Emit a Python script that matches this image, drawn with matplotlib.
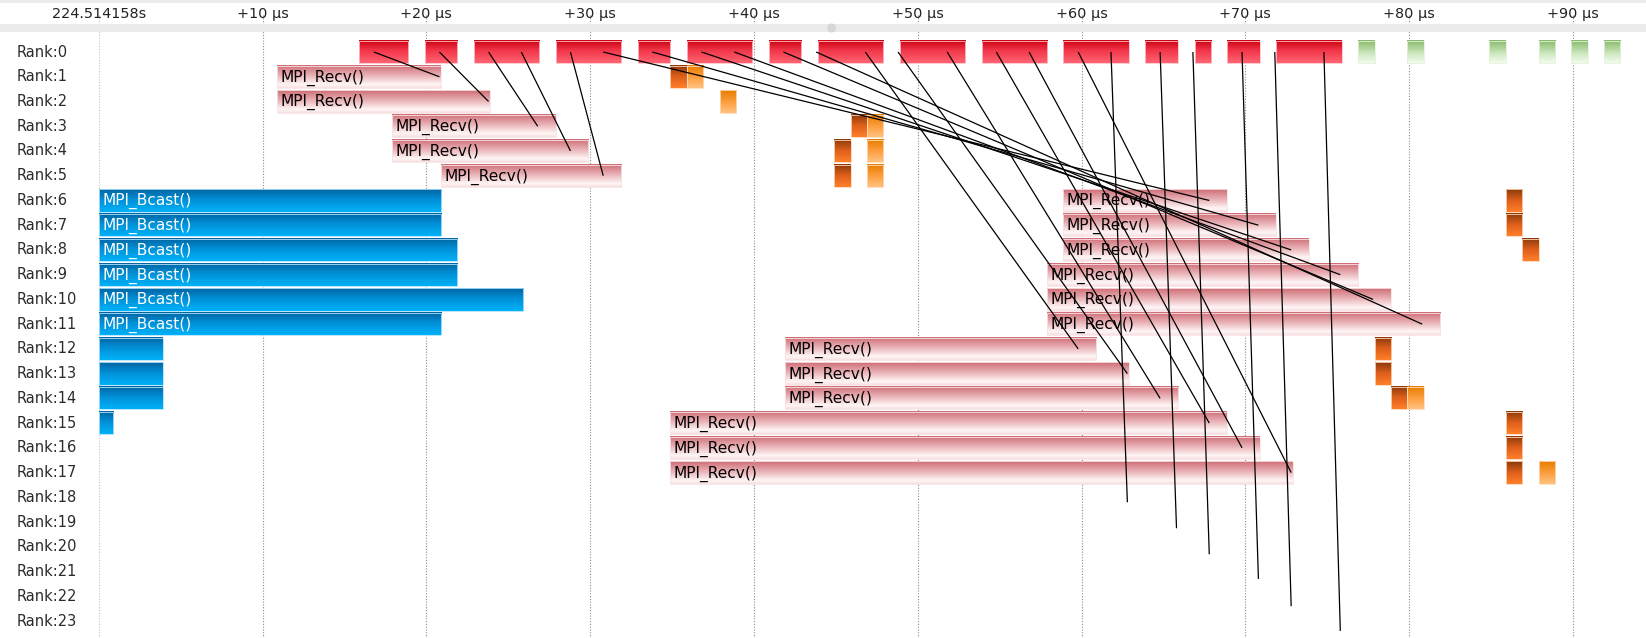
import numpy as np
import matplotlib
matplotlib.use("Agg")
import matplotlib.pyplot as plt
from matplotlib.colors import LinearSegmentedColormap
from matplotlib.patches import Rectangle, Circle

# ---- data (times in microseconds after 224.514158s) ----
n_ranks = 24
rank_labels = ["Rank:%d" % r for r in range(n_ranks)]

# rank 0 compute / send bars (red)
send_start = [15.9, 19.9, 22.9, 27.9, 32.9, 35.9, 40.9, 43.9, 48.9, 53.9, 58.9, 63.9, 66.9, 68.9, 71.9]
send_end = [18.9, 21.9, 26.9, 31.9, 34.9, 39.9, 42.9, 47.9, 52.9, 57.9, 62.9, 65.9, 67.9, 70.9, 75.9]

# rank 0 small green events
green_start = [76.9, 79.9, 84.9, 87.9, 89.9, 91.9]
green_len = 1.0

# MPI_Recv bars
recv_rank = [1, 2, 3, 4, 5, 6, 7, 8, 9, 10, 11, 12, 13, 14, 15, 16, 17]
recv_start = [10.9, 10.9, 17.9, 17.9, 20.9, 58.9, 58.9, 58.9, 57.9, 57.9, 57.9, 41.9, 41.9, 41.9, 34.9, 34.9, 34.9]
recv_end = [20.9, 23.9, 27.9, 29.9, 31.9, 68.9, 71.9, 73.9, 76.9, 78.9, 81.9, 60.9, 62.9, 65.9, 68.9, 70.9, 72.9]

# MPI_Bcast bars
bcast_rank = [6, 7, 8, 9, 10, 11, 12, 13, 14, 15]
bcast_start = [0, 0, 0, 0, 0, 0, 0, 0, 0, 0]
bcast_end = [20.9, 20.9, 21.9, 21.9, 25.9, 20.9, 3.9, 3.9, 3.9, 0.9]

# small orange events (1 us each)
dark_rank = [1, 3, 4, 5, 6, 7, 8, 12, 13, 14, 15, 16, 17]
dark_start = [34.9, 45.9, 44.9, 44.9, 85.9, 85.9, 86.9, 77.9, 77.9, 78.9, 85.9, 85.9, 85.9]
light_rank = [1, 2, 3, 4, 5, 14, 17]
light_start = [35.9, 37.9, 46.9, 46.9, 46.9, 79.9, 87.9]
small_len = 1.0

# messages from rank 0
msg_send = [16.8, 20.8, 23.8, 25.8, 28.8, 30.8, 33.8, 36.8, 38.8, 41.8, 43.8, 46.8,
            48.8, 51.8, 54.8, 56.8, 59.8, 61.8, 64.8, 66.8, 69.8, 71.8, 74.8]
msg_recv = [20.8, 23.8, 26.8, 28.8, 30.8, 67.8, 70.8, 72.8, 75.8, 77.8, 80.8, 59.8,
            62.8, 64.8, 67.8, 69.8, 72.8, 62.8, 65.8, 67.8, 70.8, 72.8, 75.8]
msg_dst = [1, 2, 3, 4, 5, 6, 7, 8, 9, 10, 11, 12, 13, 14, 15, 16, 17,
           18.2, 19.25, 20.3, 21.3, 22.4, 23.4]

tick_pos = [0, 10, 20, 30, 40, 50, 60, 70, 80, 90]
tick_text = ["224.514158s"] + ["+%d µs" % t for t in tick_pos[1:]]

# ---- layout (pixels) ----
W, H = 1646, 638
X0_PX, US_PX = 98.7, 16.38      # x pixel of t=0, pixels per us
Y0_PX, ROW_PX = 52.0, 24.74     # y pixel of rank 0 centre, pixels per row
BAR_H = 0.9


def py(p):
    return (p - Y0_PX) / ROW_PX


fig = plt.figure(figsize=(W / 100, H / 100), dpi=100)
ax = fig.add_axes([0, 0, 1, 1])
ax.set_axis_off()

cmaps = {
    "red": LinearSegmentedColormap.from_list("red", [(0, "#c9000e"), (0.45, "#f2364a"), (1, "#ff6472")]),
    "recv": LinearSegmentedColormap.from_list("recv", [(0, "#cf6d75"), (0.45, "#e9b2b7"), (0.85, "#fff6f6"), (1, "#f7dfe1")]),
    "bcast": LinearSegmentedColormap.from_list("bcast", [(0, "#0066a2"), (0.5, "#0092da"), (1, "#00b1f7")]),
    "dark": LinearSegmentedColormap.from_list("dark", [(0, "#8b3a0c"), (0.5, "#de601a"), (1, "#ff7f2a")]),
    "light": LinearSegmentedColormap.from_list("light", [(0, "#e57d00"), (0.5, "#fd9d3c"), (1, "#ffc27f")]),
    "green": LinearSegmentedColormap.from_list("green", [(0, "#86b86a"), (0.6, "#cfe9c0"), (1, "#f3fbee")]),
}
edges = {"red": "#ffc0c8", "recv": "#f8e4e6", "bcast": "#b0e2fd",
         "dark": "#ffd6b5", "light": "#ffdcb8", "green": "#e3f2da"}
grad = np.linspace(0, 1, 64).reshape(-1, 1)


def bar(rank, t0, t1, kind, label=None, label_color="black"):
    ax.imshow(grad, cmap=cmaps[kind], extent=(t0, t1, rank + BAR_H / 2, rank - BAR_H / 2),
              origin="upper", aspect="auto", interpolation="bilinear", zorder=2)
    ax.add_patch(Rectangle((t0, rank - BAR_H / 2), t1 - t0, BAR_H, fill=False,
                           edgecolor=edges[kind], lw=0.6, zorder=2.1))
    if label:
        ax.annotate(label, (t0, rank), xytext=(2.5, -0.6), textcoords="offset points",
                    va="center", ha="left", fontsize=11.1, color=label_color,
                    family="DejaVu Sans", zorder=3)


# header decorations
ax.axhspan(py(0), py(2.7), color="#ebebeb", lw=0, zorder=1)
ax.axhspan(py(24), py(31.7), color="#ebebeb", lw=0, zorder=1.5)
for t, s in zip(tick_pos, tick_text):
    ax.text(t, py(14.3), s, ha="center", va="center", fontsize=10.4, color="#222222", zorder=3)

# grid lines
for t in tick_pos:
    ax.vlines(t, py(15), py(H), colors="#c4c4c4" if t == 0 else "#8c8c8c",
              linestyles=(0, (1, 1.5)), lw=0.8, zorder=1)

# rank labels
for r, s in enumerate(rank_labels):
    ax.text(16.7 / W, r, s, transform=ax.get_yaxis_transform(), ha="left", va="center",
            fontsize=10.5, color="#2b2b2b", zorder=3)

for t0, t1 in zip(send_start, send_end):
    bar(0, t0, t1, "red")
for t0 in green_start:
    bar(0, t0, t0 + green_len, "green")
for r, t0, t1 in zip(recv_rank, recv_start, recv_end):
    bar(r, t0, t1, "recv", "MPI_Recv()")
for r, t0, t1 in zip(bcast_rank, bcast_start, bcast_end):
    bar(r, t0, t1, "bcast", "MPI_Bcast()" if t1 - t0 > 6 else None, "white")
for r, t0 in zip(dark_rank, dark_start):
    bar(r, t0, t0 + small_len, "dark")
for r, t0 in zip(light_rank, light_start):
    bar(r, t0, t0 + small_len, "light")

# message lines
for t0, t1, d in zip(msg_send, msg_recv, msg_dst):
    ax.plot([t0, t1], [0, d], color="black", lw=0.9, zorder=4, solid_capstyle="butt")

# scroll handle (drawn in pixel space)
fig.patches.append(Circle((831.7, H - 28), 3.8, transform=None, color="#d6d6d6", zorder=5))

ax.set_xlim(-X0_PX / US_PX, (W - X0_PX) / US_PX)
ax.set_ylim(py(H), py(0))

fig.savefig("out.png", dpi=100)
